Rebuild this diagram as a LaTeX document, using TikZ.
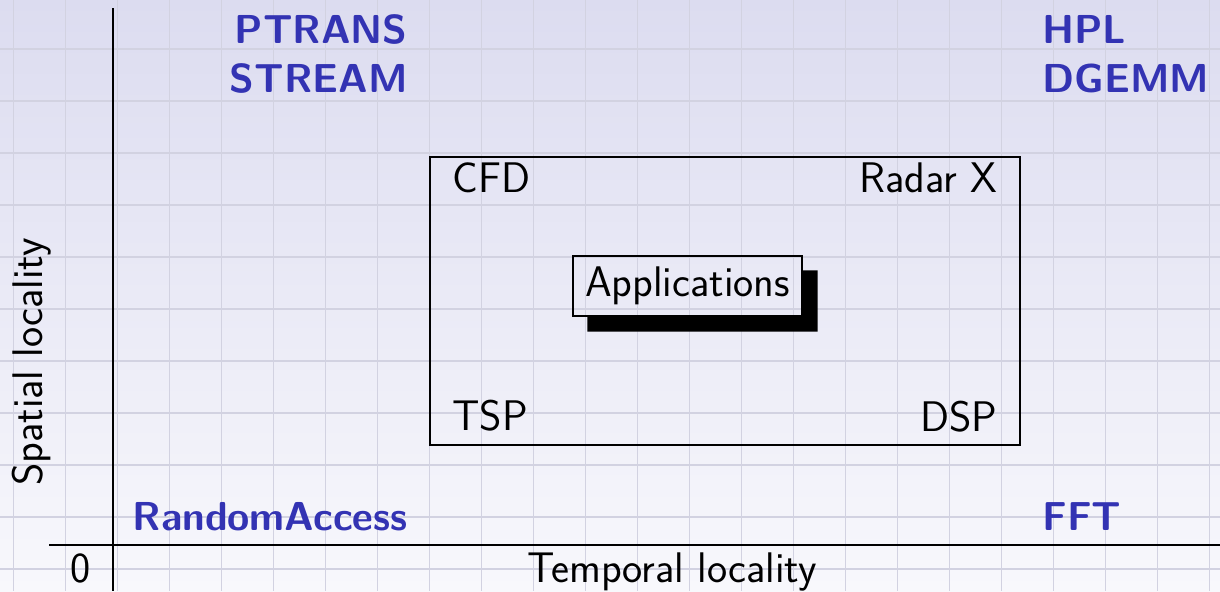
\documentclass[tikz,border=0pt]{standalone}
\usetikzlibrary{calc}
\definecolor{bgtop}{RGB}{220,220,240}
\definecolor{bgbot}{RGB}{248,248,252}
\definecolor{gridc}{RGB}{210,210,225}
\definecolor{structblue}{RGB}{51,51,179}
\begin{document}
\begin{tikzpicture}[x=0.5pt,y=-0.5pt,
  gridline/.style={draw=gridc,line width=0.8pt},
  axis/.style={draw=black,line width=0.9pt},
  plain/.style={inner sep=0pt,font=\fontsize{21.4}{25}\selectfont\sffamily},
  bench/.style={inner sep=0pt,font=\fontsize{20.2}{24}\selectfont\sffamily\bfseries,text=structblue},
  frame/.style={draw=black,line width=0.7pt}]
\useasboundingbox (0,0) rectangle (1220,591);
\shade[top color=bgtop,bottom color=bgbot] (0,0) rectangle (1220,591);
% grid
\foreach \gx in {0,...,23} \draw[gridline] ({13.5+52*\gx},0) -- ({13.5+52*\gx},591);
\foreach \gy in {0,...,10} \draw[gridline] (0,{49+52*\gy}) -- (1220,{49+52*\gy});
% axes
\coordinate (ytop) at (113,8);
\coordinate (ybot) at (113,591);
\coordinate (xl) at (49,545);
\coordinate (xr) at (1220,545);
\draw[axis] (ytop) -- (ybot);
\draw[axis] (xl) -- (xr);
% axis labels
\node[plain,anchor=base] (zero) at (81,582) {0};
\node[plain,anchor=base] (xlab) at (672,582) {Temporal locality};
\node[plain,anchor=base,rotate=90] (ylab) at (42,362) {Spatial locality};
% applications frame
\node[frame,minimum width=295pt,minimum height=144pt,inner sep=0pt] (apps) at (725,301) {};
\node[plain,anchor=base west] (cfd) at (452,192) {CFD};
\node[plain,anchor=base east] (radar) at (998,192) {Radar X};
\node[plain,anchor=base west] (tsp) at (452,430) {TSP};
\node[plain,anchor=base east] (dsp) at (998,431) {DSP};
% Applications node with shadow
\node[plain,frame,minimum width=114.5pt,minimum height=30pt] (app) at (687.5,286) {Applications};
\fill[black] ($(app.north east)+(0,15)$) -- ($(app.north east)+(15,15)$) -- ($(app.south east)+(15,15)$) -- ($(app.south west)+(15,15)$) -- ($(app.south west)+(15,0)$) -- (app.south east) -- cycle;
% benchmarks
\node[bench,anchor=base east] (ptrans) at (408,43) {PTRANS};
\node[bench,anchor=base east] (stream) at (408,92) {STREAM};
\node[bench,anchor=base west] (hpl) at (1042,43) {HPL};
\node[bench,anchor=base west] (dgemm) at (1042,92) {DGEMM};
\node[bench,anchor=base east] (ra) at (408,530) {RandomAccess};
\node[bench,anchor=base west] (fft) at (1042,530) {FFT};
\end{tikzpicture}
\end{document}
